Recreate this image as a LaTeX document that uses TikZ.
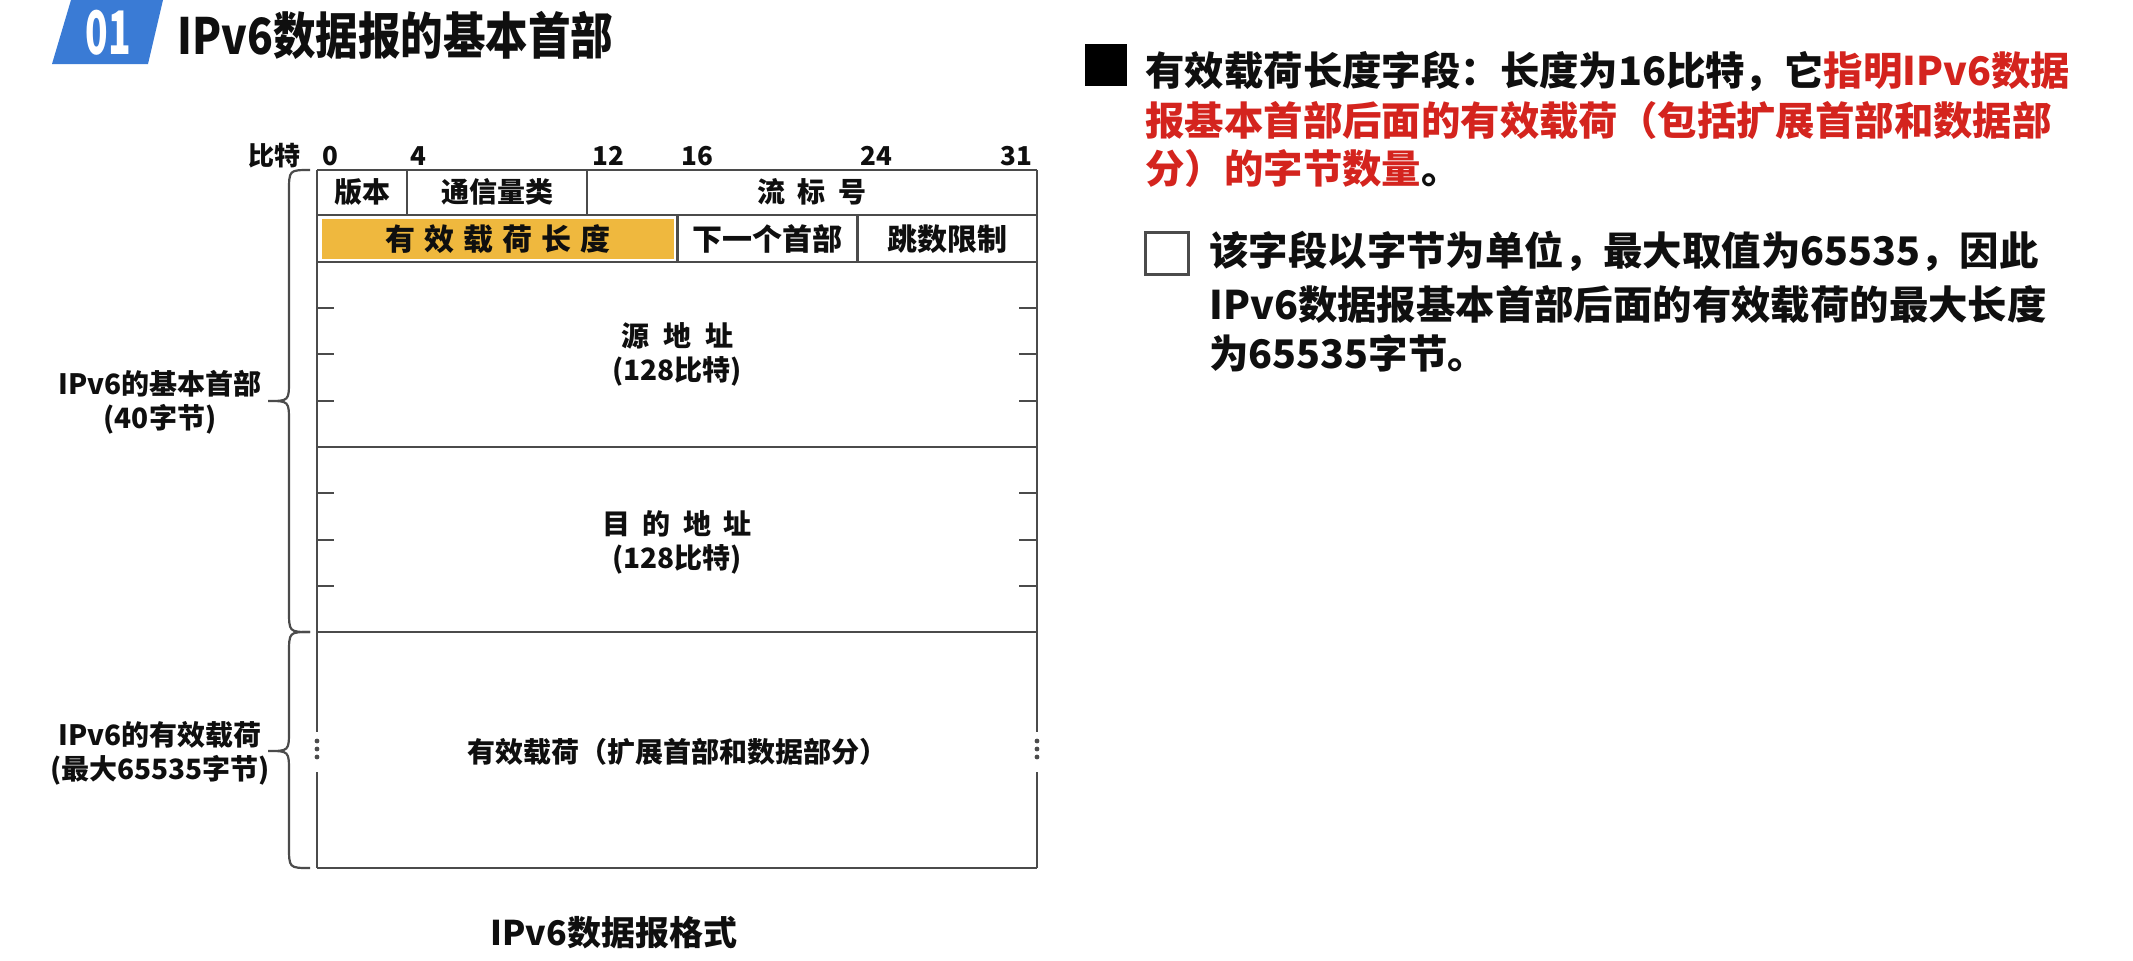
\documentclass[tikz,border=0pt]{standalone}
\usepackage{graphicx}
\usepackage{fontspec}
\setmainfont{Noto Sans CJK SC}
\definecolor{badgeblue}{RGB}{58,123,213}
\definecolor{fieldyellow}{RGB}{239,184,62}
\definecolor{hlred}{RGB}{212,36,30}
\definecolor{linegray}{RGB}{75,75,75}
\definecolor{ink}{RGB}{15,15,15}
\begin{document}
\begin{tikzpicture}[x=0.5pt,y=-0.5pt,
  frame/.style={draw=linegray,line width=1.2pt},
  tickline/.style={draw=linegray,line width=1.2pt},
  bracepath/.style={draw=linegray,line width=1.1pt},
  cellA/.style={inner sep=0pt,font=\bfseries\fontsize{14}{14}\selectfont,text=ink},
  cellB/.style={inner sep=0pt,font=\bfseries\fontsize{15}{15}\selectfont,text=ink},
  bitlabel/.style={inner sep=0pt,font=\bfseries\fontsize{13}{13}\selectfont,text=ink},
  sidelabel/.style={inner sep=0pt,align=center,font=\bfseries\fontsize{14}{17}\selectfont,text=ink},
  bodyline/.style={inner sep=0pt,anchor=west,font=\bfseries\fontsize{19.7}{19.7}\selectfont,text=ink},
]
\useasboundingbox (0,0) rectangle (2133,960);
\fill[white] (0,0) rectangle (2133,960);

% title badge
\fill[badgeblue] (71,0) -- (163,0) -- (148,64) -- (52,64) -- cycle;
\node[inner sep=0pt,text=white,font=\bfseries\fontsize{30}{30}\selectfont] (num) at (108,33) {\scalebox{0.62}[1]{01}};
\node[anchor=west,inner sep=0pt,text=ink,font=\bfseries\fontsize{25}{25}\selectfont] (title) at (177,35) {\scalebox{0.85}[1]{IPv6数据报的基本首部}};

% bit scale
\node[bitlabel,anchor=base east] (bits) at (301,165) {比特};
\node[bitlabel,anchor=base west] (b0) at (322,165) {0};
\node[bitlabel,anchor=base west] (b4) at (410,165) {4};
\node[bitlabel,anchor=base west] (b12) at (592,165) {12};
\node[bitlabel,anchor=base west] (b16) at (681,165) {16};
\node[bitlabel,anchor=base west] (b24) at (860,165) {24};
\node[bitlabel,anchor=base east] (b31) at (1033,165) {31};

% yellow field
\fill[fieldyellow] (322,219) rectangle (674,259);

% frame
\draw[frame] (317,170) -- (1037,170);
\draw[frame] (317,215) -- (1037,215);
\draw[frame] (317,262) -- (1037,262);
\draw[frame] (317,447) -- (1037,447);
\draw[frame] (317,632) -- (1037,632);
\draw[frame] (317,868) -- (1037,868);
\draw[frame] (317,170) -- (317,732);
\draw[frame] (317,772) -- (317,868);
\draw[frame] (1037,170) -- (1037,732);
\draw[frame] (1037,772) -- (1037,868);
\draw[frame] (407,170) -- (407,215);
\draw[frame] (587,170) -- (587,215);
\draw[frame] (677.5,215) -- (677.5,262);
\draw[frame] (857.5,215) -- (857.5,262);

% ticks
\foreach \ty in {308,354,401,493,540,586}{
  \draw[tickline] (317,\ty) -- (334,\ty);
  \draw[tickline] (1019,\ty) -- (1037,\ty);
}
% dots
\foreach \dy in {741,749,757}{
  \fill[linegray] (317,\dy) circle (2.4);
  \fill[linegray] (1037,\dy) circle (2.4);
}

% cell texts
\node[cellA] (ver) at (362,192) {版本};
\node[cellA] (tc) at (497,192) {通信量类};
\node[cellA] (fl) at (812,192) {流\hspace{0.45em}标\hspace{0.45em}号};
\node[cellB] (plen) at (498,239) {有\hspace{0.3em}效\hspace{0.3em}载\hspace{0.3em}荷\hspace{0.3em}长\hspace{0.3em}度};
\node[cellB] (nh) at (767.5,239) {下一个首部};
\node[cellB] (hl) at (947,239) {跳数限制};
\node[cellA] (src) at (677,336) {源\hspace{0.5em}地\hspace{0.5em}址};
\node[cellA] (srcb) at (677,371) {(128比特)};
\node[cellA] (dst) at (677,524) {目\hspace{0.45em}的\hspace{0.45em}地\hspace{0.45em}址};
\node[cellA] (dstb) at (677,559) {(128比特)};
\node[cellA] (pay) at (677,752) {有效载荷（扩展首部和数据部分）};

% braces
\draw[bracepath] (310,170) .. controls (289,170) .. (289,192) -- (289,380) .. controls (289,401) .. (268,401) .. controls (289,401) .. (289,422) -- (289,610) .. controls (289,632) .. (310,632);
\draw[bracepath] (310,632) .. controls (289,632) .. (289,654) -- (289,730) .. controls (289,751) .. (268,751) .. controls (289,751) .. (289,772) -- (289,846) .. controls (289,868) .. (310,868);
\node[sidelabel] (hdrlab) at (160,402) {IPv6的基本首部\\(40字节)};
\node[sidelabel] (paylab) at (160,753) {IPv6的有效载荷\\(最大65535字节)};

% caption
\node[inner sep=0pt,text=ink,font=\bfseries\fontsize{17}{17}\selectfont] (cap) at (614,933) {IPv6数据报格式};

% right text
\fill[black] (1085,44) rectangle (1127,86);
\node[bodyline] (l1) at (1145,71) {有效载荷长度字段：长度为16比特，它\textcolor{hlred}{指明IPv6数据}};
\node[bodyline,text=hlred] (l2) at (1145,121) {报基本首部后面的有效载荷（包括扩展首部和数据部};
\node[bodyline] (l3) at (1145,169) {\textcolor{hlred}{分）的字节数量}。};

\draw[draw=linegray,line width=1.5pt] (1145,232) rectangle (1188,274);
\node[bodyline] (m1) at (1209,251) {该字段以字节为单位，最大取值为65535，因此};
\node[bodyline] (m2) at (1209,305) {IPv6数据报基本首部后面的有效载荷的最大长度};
\node[bodyline] (m3) at (1209,353) {为65535字节。};
\end{tikzpicture}
\end{document}
